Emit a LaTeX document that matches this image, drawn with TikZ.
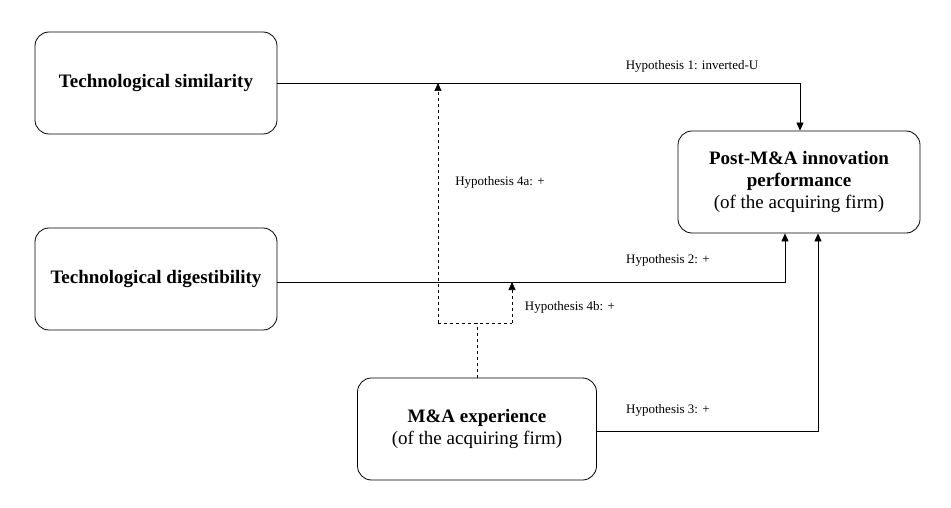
\documentclass[tikz,border=0pt]{standalone}
\usepackage{fontspec}
\setmainfont{Liberation Serif}
\usetikzlibrary{arrows.meta}
\begin{document}
\begin{tikzpicture}[x=1pt,y=-1pt,
  box/.style={draw,rounded corners=14pt,minimum width=242pt,minimum height=102pt,align=center,font=\fontsize{19}{22}\selectfont,line width=0.8pt},
  lab/.style={font=\fontsize{13}{15}\selectfont,inner sep=1pt},
  arr/.style={-{Triangle[length=8pt,width=7pt]},line width=0.7pt},
  dline/.style={dashed,line width=0.6pt}]
\useasboundingbox (0,0) rectangle (951,508);
\node[box] (sim) at (156,83) {\textbf{Technological similarity}};
\node[box] (dig) at (156,279) {\textbf{Technological digestibility}};
\node[box] (post) at (799,182) {\textbf{Post-M\&A innovation}\\\textbf{performance}\\(of the acquiring firm)};
\node[box,minimum width=239pt] (exp) at (477,429) {\textbf{M\&A experience}\\(of the acquiring firm)};
\coordinate (c1) at (800,83);
\coordinate (c2) at (785,282);
\coordinate (c3) at (818,431);
\coordinate (d0) at (477,323);
\coordinate (dl) at (438,323);
\coordinate (dr) at (512,323);
\coordinate (ta) at (438,83);
\coordinate (tb) at (512,282);
\draw[arr] (sim.east) -- (c1) -- (c1 |- post.north);
\draw[arr] (sim.east |- c2) -- (c2) -- (c2 |- post.south);
\draw[arr] (exp.east |- c3) -- (c3) -- (c3 |- post.south);
\draw[dline] (exp.north -| d0) -- (d0);
\draw[dline] (dl) -- (dr);
\draw[dline,arr] (dl) -- (ta);
\draw[dline,arr] (dr) -- (tb);
\node[lab] (h1) at (692,66) {Hypothesis 1: inverted-U};
\node[lab] (h2) at (668,260) {Hypothesis 2: +};
\node[lab] (h3) at (668,410) {Hypothesis 3: +};
\node[lab] (h4a) at (500,182) {Hypothesis 4a: +};
\node[lab] (h4b) at (570,307) {Hypothesis 4b: +};
\end{tikzpicture}
\end{document}
